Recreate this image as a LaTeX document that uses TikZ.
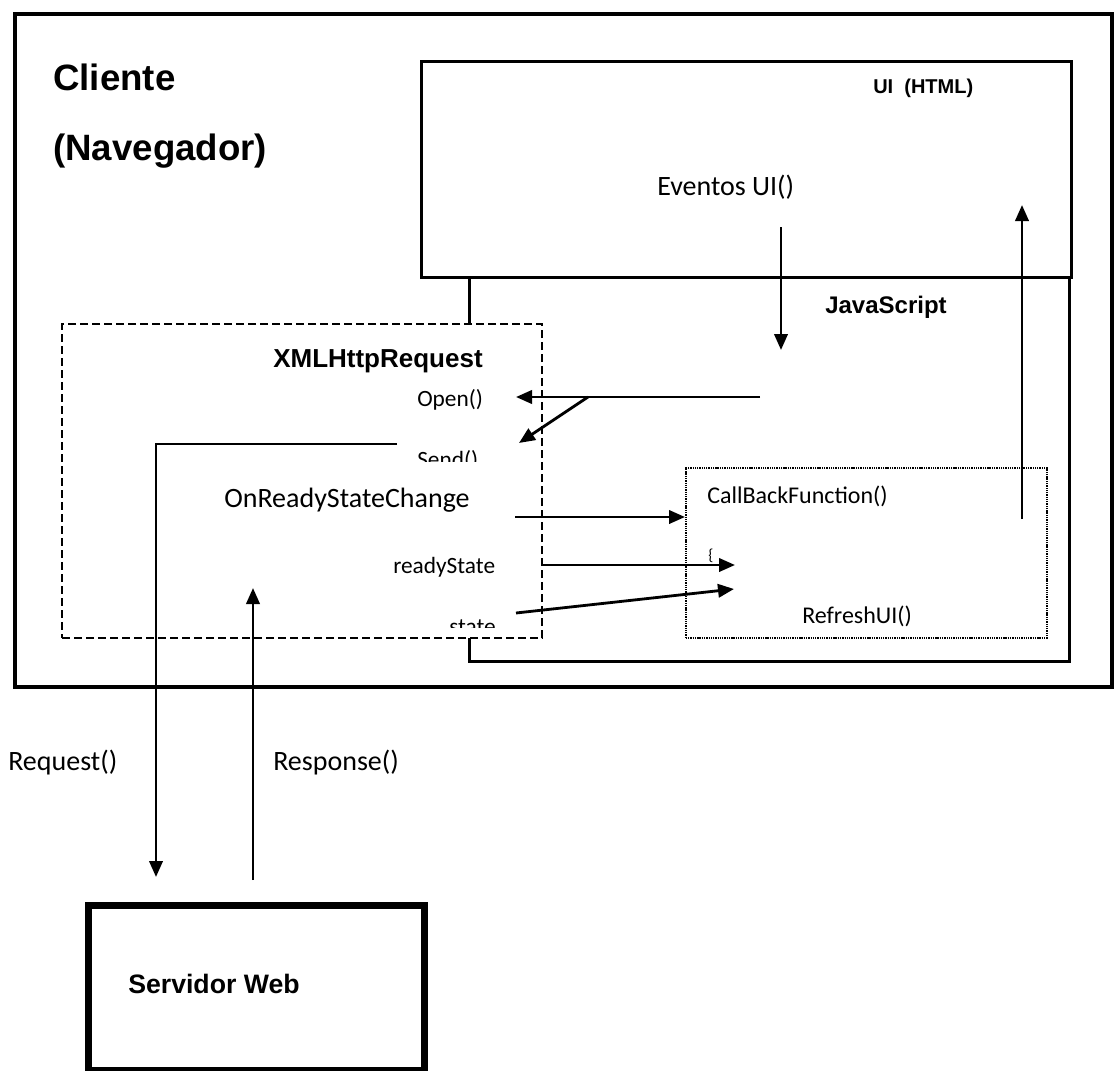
\documentclass[tikz,border=0pt]{standalone}
\usepackage{fontspec}
\setmainfont{Carlito}
\newfontfamily\headfont{Liberation Sans}
\usetikzlibrary{arrows.meta}
\newcommand{\fs}[1]{\fontsize{#1pt}{#1pt}\selectfont}
\begin{document}
\begin{tikzpicture}[x=0.75pt,y=-0.75pt,
  outerbox/.style={draw, line width=3pt, inner sep=0, anchor=north west},
  solidbox/.style={draw, line width=2.2pt, inner sep=0, anchor=north west},
  serverbox/.style={draw, line width=5pt, inner sep=0, anchor=north west},
  xhrbox/.style={draw, fill=white, line width=1.5pt, dash pattern=on 6pt off 3pt, inner sep=0, anchor=north west},
  cbbox/.style={draw, line width=1.3pt, dash pattern=on 1pt off 0.7pt, inner sep=0, anchor=north west},
  lbl/.style={inner sep=0, anchor=base west},
  flow/.style={line width=2.1pt, -{Triangle[length=12pt,width=10pt]}},
  wire/.style={line width=2.1pt}]
\useasboundingbox (0,0) rectangle (1114,1071);

% containers
\node[outerbox, minimum width=823pt, minimum height=504.75pt] (client) at (13,12) {};
\node[solidbox, minimum width=487.5pt, minimum height=162pt] (ui) at (420,60) {};
\node[solidbox, minimum width=450pt, minimum height=288pt] (js) at (468,276) {};
\node[xhrbox, minimum width=360pt, minimum height=235.5pt] (xhr) at (61,323) {};
\node[cbbox, minimum width=270.75pt, minimum height=127.5pt] (cb) at (685,467) {};
\node[serverbox, minimum width=252pt, minimum height=123.75pt] (server) at (85,902) {};

% titles
\node[lbl, font=\headfont\bfseries\fs{27.5}] (tcli) at (53,90) {Cliente};
\node[lbl, font=\headfont\bfseries\fs{27.5}] (tnav) at (53,160) {(Navegador)};
\node[lbl, font=\headfont\bfseries\fs{15}] (tui) at (873,93) {UI\ \ (HTML)};
\node[lbl, font=\headfont\bfseries\fs{18}] (tjs) at (825,313) {JavaScript};
\node[lbl, font=\headfont\bfseries\fs{19.5}] (txhr) at (273,367) {XMLHttpRequest};
\node[lbl, font=\headfont\bfseries\fs{20}] (tsrv) at (128,993) {Servidor Web};

% labels
\node[lbl, font=\fs{21}] (evt) at (657,195) {Eventos UI()};
\node[lbl, font=\fs{17.5}] (open) at (417,406) {Open()};
\begin{scope}
  \clip (400,440) rectangle (500,461);
  \node[lbl, font=\fs{17.5}] (send) at (417,467) {Send()};
\end{scope}
\node[lbl, font=\fs{21}] (orsc) at (224,507) {OnReadyStateChange};
\node[lbl, font=\fs{17.5}] (rs) at (393,573) {readyState};
\begin{scope}
  \clip (430,612) rectangle (510,627);
  \node[lbl, font=\fs{17.5}] (st) at (449,634) {state};
\end{scope}
\node[lbl, font=\fs{18}] (cbf) at (707,503) {CallBackFunction()};
\node[lbl, font=\fs{12}] (brace) at (708,560) {\{};
\node[lbl, font=\fs{18}] (refresh) at (802,623) {RefreshUI()};
\node[lbl, font=\fs{21}] (req) at (8,770) {Request()};
\node[lbl, font=\fs{21}] (resp) at (273,770) {Response()};

% connector end points
\coordinate (evtA) at (781,227);
\coordinate (evtB) at (781,350);
\coordinate (upA) at (1022,519);
\coordinate (upB) at (1022,205);
\coordinate (openA) at (760,397);
\coordinate (openB) at (516,397);
\coordinate (fork) at (588,397);
\coordinate (sendB) at (519,443);
\coordinate (reqA) at (397,444);
\coordinate (reqK) at (156,444);
\coordinate (reqB) at (156,877);
\coordinate (respA) at (253,880);
\coordinate (respB) at (253,588);
\coordinate (orscA) at (515,517);
\coordinate (orscB) at (685,517);
\coordinate (rsA) at (541,565);
\coordinate (rsB) at (735,565);
\coordinate (stA) at (516,613);
\coordinate (stB) at (734,589);

% connectors
\draw[flow] (evtA) -- (evtB);
\draw[flow] (upA) -- (upB);
\draw[flow] (openA) -- (openB);
\draw[flow] (fork) -- (sendB);
\draw[flow] (reqA) -- (reqK) -- (reqB);
\draw[flow] (respA) -- (respB);
\draw[flow] (orscA) -- (orscB);
\draw[flow] (rsA) -- (rsB);
\draw[flow] (stA) -- (stB);
\end{tikzpicture}
\end{document}
